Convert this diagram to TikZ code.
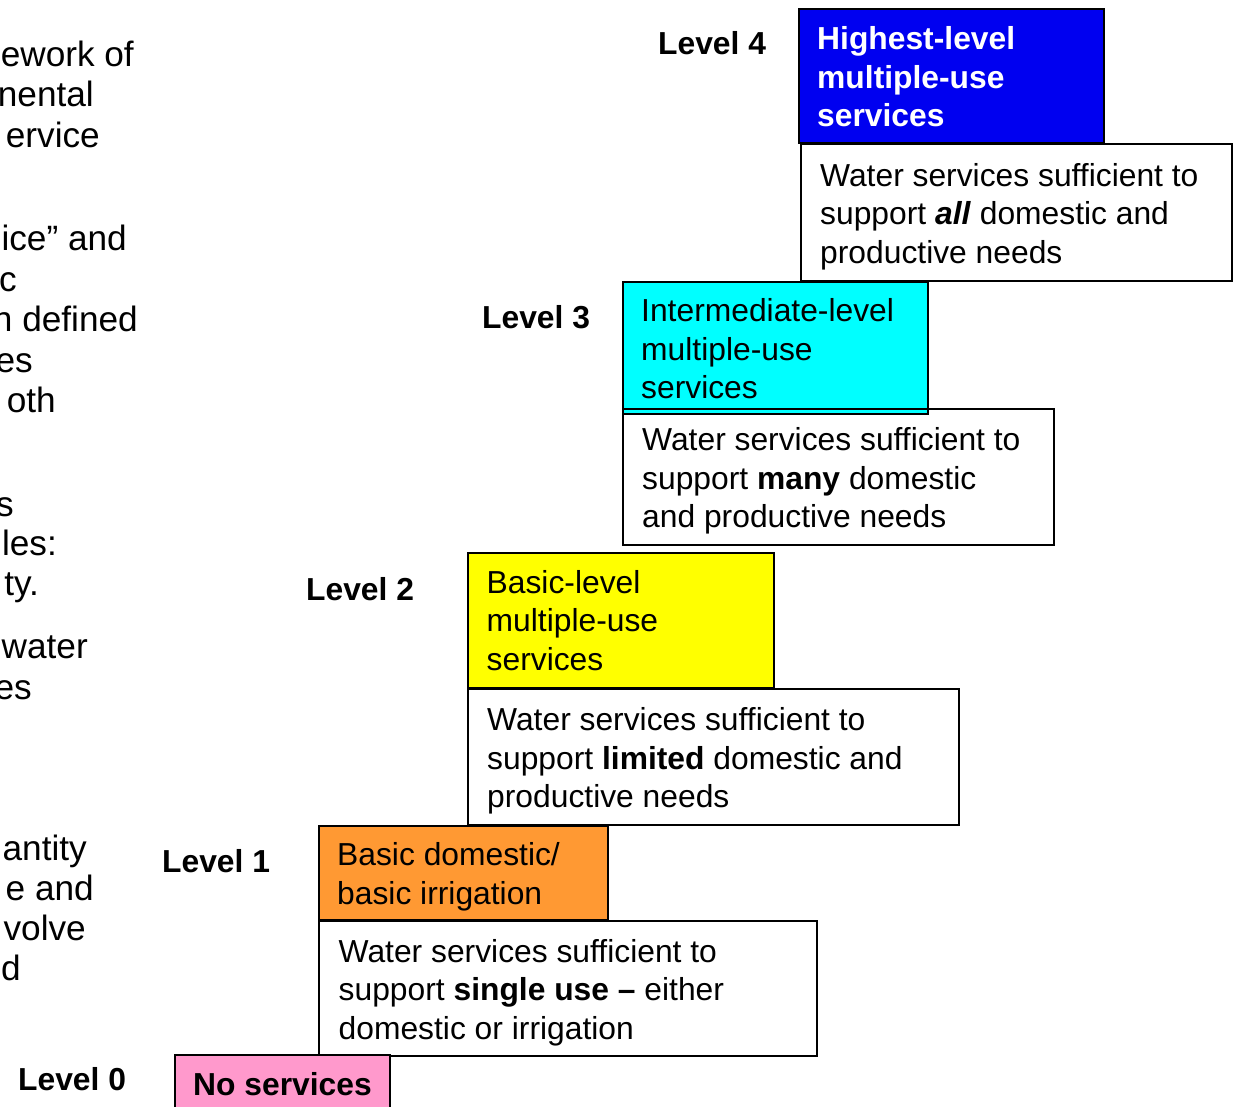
\documentclass[tikz,border=0pt]{standalone}
\usepackage{fontspec}
\setmainfont{Liberation Sans}
\definecolor{lfour}{RGB}{0,0,240}
\definecolor{lthree}{RGB}{0,255,255}
\definecolor{ltwo}{RGB}{255,255,0}
\definecolor{lone}{RGB}{255,153,51}
\definecolor{lzero}{RGB}{255,153,204}
\begin{document}
\begin{tikzpicture}[x=1pt,y=-1pt,
  box/.style={draw=black, line width=2pt, inner sep=0pt, anchor=north west},
  txt/.style={inner sep=0pt, align=left, anchor=west, font=\fontsize{31.8}{38.5}\selectfont},
  btxt/.style={txt, font=\fontsize{31.8}{38.5}\selectfont\bfseries},
  lvl/.style={font=\fontsize{31.8}{38.5}\selectfont\bfseries, anchor=base west, inner sep=0pt},
  cut/.style={font=\fontsize{35.2}{40.3}\selectfont, anchor=base east, inner sep=0pt}]
\useasboundingbox (0,0) rectangle (1234,1107);
\begin{scope}
\clip (0,0) rectangle (1234,1107);
% cut-off paragraph at left
\node[cut] (t1) at (134,67) {ework of};
\node[cut] (t2) at (94,107) {nental};
\node[cut] (t3) at (100,148) {ervice};
\node[cut] (t4) at (127,251) {ice” and};
\node[cut] (t5) at (17,291) {c};
\node[cut] (t6) at (138,331) {n defined};
\node[cut] (t7) at (33,372) {es};
\node[cut] (t8) at (56,412) {oth};
\node[cut] (t9) at (14,516) {s};
\node[cut] (t10) at (57,555) {les:};
\node[cut] (t11) at (39,595) {ty.};
\node[cut] (t12) at (88,658) {water};
\node[cut] (t13) at (32,699) {es};
\node[cut] (t14) at (87,860) {antity};
\node[cut] (t15) at (94,900) {e and};
\node[cut] (t16) at (86,940) {volve};
\node[cut] (t17) at (21,980) {d};
% level labels
\node[lvl] (l4) at (658,55) {Level 4};
\node[lvl] (l3) at (482,328) {Level 3};
\node[lvl] (l2) at (306,600) {Level 2};
\node[lvl] (l1) at (162,872) {Level 1};
\node[lvl] (l0) at (18,1090) {Level 0};
% coloured boxes
\node[box, fill=lfour, minimum width=305pt, minimum height=134pt] (b4) at (798,8) {};
\node[btxt, text=white, xshift=19pt, yshift=-1pt] (b4t) at (b4.west) {Highest-level\\multiple-use\\services};
\node[box, fill=lthree, minimum width=305pt, minimum height=132pt] (b3) at (622,281) {};
\node[txt, xshift=19pt, yshift=-1pt] (b3t) at (b3.west) {Intermediate-level\\multiple-use\\services};
\node[box, fill=ltwo, minimum width=306pt, minimum height=135pt] (b2) at (467,552) {};
\node[txt, xshift=19.5pt, yshift=0pt] (b2t) at (b2.west) {Basic-level\\multiple-use\\services};
\node[box, fill=lone, minimum width=289pt, minimum height=94pt] (b1) at (318,825) {};
\node[txt, xshift=19pt, yshift=-4pt] (b1t) at (b1.west) {Basic domestic/\\basic irrigation};
% description boxes
\node[box, minimum width=431pt, minimum height=137pt] (d4) at (800,143) {};
\node[txt, xshift=20pt, yshift=-4pt] (d4t) at (d4.west)
  {Water services sufficient to\\support \textbf{\textit{all}} domestic and\\productive needs};
\node[box, minimum width=431pt, minimum height=136pt] (d3) at (622,408) {};
\node[txt, xshift=20pt, yshift=-4pt] (d3t) at (d3.west)
  {Water services sufficient to\\support \textbf{many} domestic\\and productive needs};
\node[box, minimum width=491pt, minimum height=136pt] (d2) at (467,688) {};
\node[txt, xshift=20pt, yshift=-4pt] (d2t) at (d2.west)
  {Water services sufficient to\\support \textbf{limited} domestic and\\productive needs};
\node[box, minimum width=498pt, minimum height=135pt] (d1) at (318,920) {};
\node[txt, xshift=20.5pt, yshift=-4pt] (d1t) at (d1.west)
  {Water services sufficient to\\support \textbf{single use –} either\\domestic or irrigation};
\node[box, fill=lzero, minimum width=215pt, minimum height=60pt] (b0) at (174,1054) {};
\node[btxt, xshift=19pt, yshift=1pt] (b0t) at (b0.west) {No services};
\end{scope}
\end{tikzpicture}
\end{document}
